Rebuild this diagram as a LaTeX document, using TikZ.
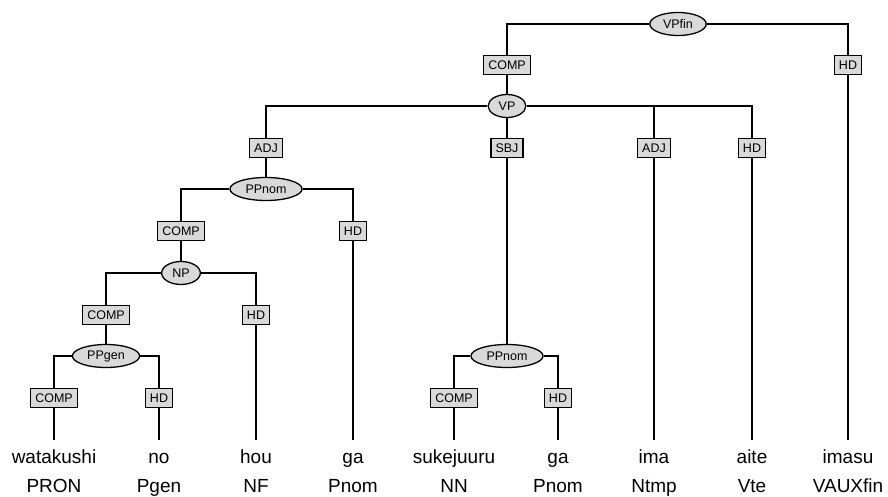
\documentclass[tikz,border=0pt]{standalone}
\usepackage{fontspec}
\setmainfont{Liberation Sans}
\usetikzlibrary{shapes.geometric,positioning}
\definecolor{catfill}{RGB}{217,217,217}
\begin{document}
\begin{tikzpicture}[
    x=1pt, y=-1pt,
    cat/.style={ellipse, draw, line width=1.3pt, fill=catfill, inner xsep=5pt, inner ysep=0pt,
                minimum height=23pt, font=\fontsize{12.5}{14}\selectfont},
    fn/.style={rectangle, draw, line width=1.4pt, fill=catfill, inner xsep=4.6pt, inner ysep=0pt,
               minimum height=19pt, text height=9pt, text depth=0pt, font=\fontsize{12.5}{14}\selectfont},
    wrd/.style={anchor=base, inner sep=0pt, text height=14pt, text depth=4pt, font=\fontsize{19}{22}\selectfont},
    tagtxt/.style={anchor=base, inner sep=0pt, font=\fontsize{19}{22}\selectfont},
    br/.style={line width=1.3pt},
    leaf/.style={br, shorten >=9pt}
]
\useasboundingbox (0,0) rectangle (888,497);

% phrase nodes
\node[cat] (vpfin) at (678,24) {VPfin};
\node[cat] (vp) at (507,106) {VP};
\node[cat] (ppnom) at (266,189) {PPnom};
\node[cat] (np) at (181,273) {NP};
\node[cat] (ppgen) at (106,356) {PPgen};
\node[cat] (ppnomb) at (507,356) {PPnom};

% function labels
\node[fn] (comp1) at (507,65) {COMP};
\node[fn] (hd1) at (848,65) {HD};
\node[fn] (adj1) at (266,148) {ADJ};
\node[fn] (sbj) at (507,148) {SBJ};
\node[fn] (adj2) at (654,148) {ADJ};
\node[fn] (hd2) at (752,148) {HD};
\node[fn] (comp2) at (181,231) {COMP};
\node[fn] (hd3) at (353,231) {HD};
\node[fn] (comp3) at (106,315) {COMP};
\node[fn] (hd4) at (256,315) {HD};
\node[fn] (comp4) at (54,398) {COMP};
\node[fn] (hd5) at (159,398) {HD};
\node[fn] (comp5) at (454,398) {COMP};
\node[fn] (hd6) at (558,398) {HD};

% words and tags
\node[wrd] (w1) at (54,463) {watakushi};
\node[wrd] (w2) at (159,463) {no};
\node[wrd] (w3) at (256,463) {hou};
\node[wrd] (w4) at (353,463) {ga};
\node[wrd] (w5) at (454,463) {sukejuuru};
\node[wrd] (w6) at (558,463) {ga};
\node[wrd] (w7) at (654,463) {ima};
\node[wrd] (w8) at (752,463) {aite};
\node[wrd] (w9) at (848,463) {imasu};
\node[tagtxt] (t1) at (54,492) {PRON};
\node[tagtxt] (t2) at (159,492) {Pgen};
\node[tagtxt] (t3) at (256,492) {NF};
\node[tagtxt] (t4) at (353,492) {Pnom};
\node[tagtxt] (t5) at (454,492) {NN};
\node[tagtxt] (t6) at (558,492) {Pnom};
\node[tagtxt] (t7) at (654,492) {Ntmp};
\node[tagtxt] (t8) at (752,492) {Vte};
\node[tagtxt] (t9) at (848,492) {VAUXfin};

% branches
\draw[br] (vpfin.west) -| (comp1.north);
\draw[br] (vpfin.east) -| (hd1.north);
\draw[br] (comp1) -- (vp);
\draw[br] (vp.west) -| (adj1.north);
\draw[br] (vp) -- (sbj);
\draw[br] (vp.east) -| (adj2.north);
\draw[br] (vp.east) -| (hd2.north);
\draw[br] (adj1) -- (ppnom);
\draw[br] (ppnom.west) -| (comp2.north);
\draw[br] (ppnom.east) -| (hd3.north);
\draw[br] (comp2) -- (np);
\draw[br] (np.west) -| (comp3.north);
\draw[br] (np.east) -| (hd4.north);
\draw[br] (comp3) -- (ppgen);
\draw[br] (ppgen.west) -| (comp4.north);
\draw[br] (ppgen.east) -| (hd5.north);
\draw[br] (sbj) -- (ppnomb);
\draw[br] (ppnomb.west) -| (comp5.north);
\draw[br] (ppnomb.east) -| (hd6.north);

% down to the words
\draw[leaf] (comp4) -- (w1);
\draw[leaf] (hd5) -- (w2);
\draw[leaf] (hd4) -- (w3);
\draw[leaf] (hd3) -- (w4);
\draw[leaf] (comp5) -- (w5);
\draw[leaf] (hd6) -- (w6);
\draw[leaf] (adj2) -- (w7);
\draw[leaf] (hd2) -- (w8);
\draw[leaf] (hd1) -- (w9);
\end{tikzpicture}
\end{document}
